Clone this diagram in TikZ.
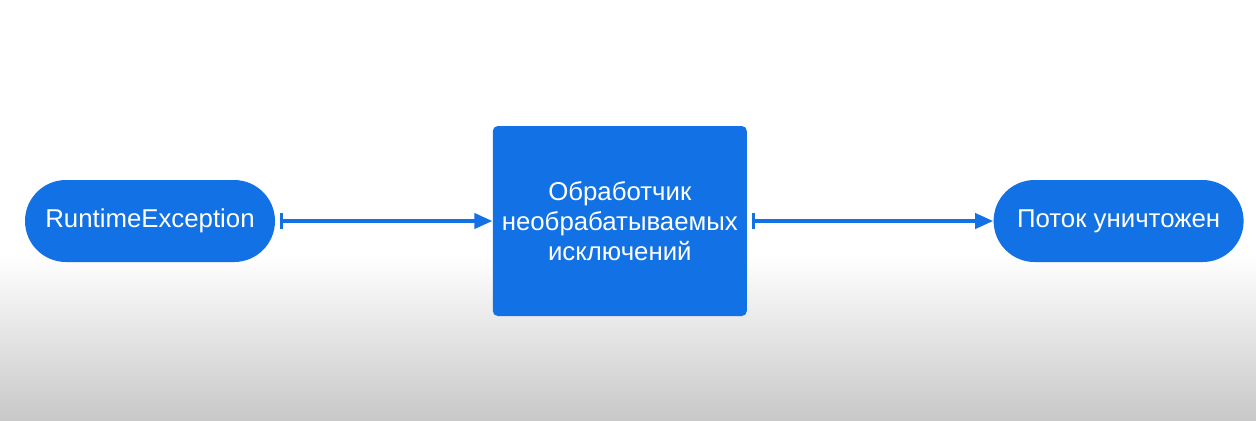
\documentclass[tikz,border=0pt]{standalone}
\usepackage{fontspec}
\setmainfont{Liberation Sans}
\usetikzlibrary{arrows.meta, positioning}
\definecolor{flowblue}{HTML}{1271E4}
\definecolor{bgbottom}{HTML}{C8C8C8}

\begin{document}
\begin{tikzpicture}[
  x=0.5pt, y=-0.5pt,
  node distance=108.5pt,
  pill/.style={rectangle, fill=flowblue, rounded corners=20.5pt, minimum width=125pt, minimum height=41pt, inner sep=0pt, text=white, font=\fontsize{12.9}{15}\selectfont},
  box/.style={rectangle, fill=flowblue, rounded corners=2.5pt, minimum width=127pt, minimum height=95pt, inner sep=0pt, align=center, text=white, font=\fontsize{12.9}{15}\selectfont},
  flow/.style={{Bar[width=8pt, line width=1.6pt]}-{Triangle[length=9pt, width=7.5pt]}, line width=1.9pt, flowblue, shorten <=2.2pt}
]
  % background
  \useasboundingbox (0,0) rectangle (1256,420);
  \fill[white] (0,0) rectangle (1256,420);
  \shade[top color=white, bottom color=bgbottom] (0,255) rectangle (1256,420);

  \node[pill] (rte) at (150,221) {RuntimeException};
  \node[box, right=of rte] (handler) {Обработчик\\необрабатываемых\\исключений};
  \node[pill, right=123pt of handler] (dead) {Поток уничтожен};

  \draw[flow] (rte) -- (handler);
  \draw[flow] (handler) -- (dead);
\end{tikzpicture}
\end{document}
